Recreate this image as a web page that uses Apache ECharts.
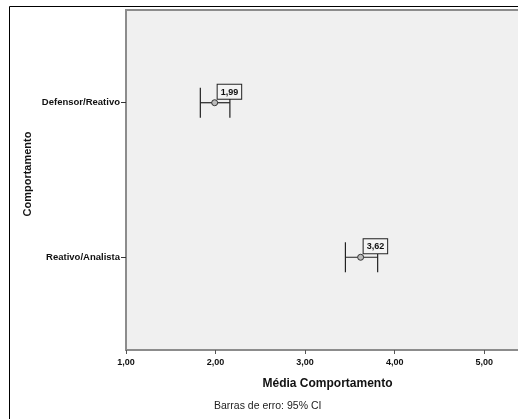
<!DOCTYPE html>
<html>
<head>
<meta charset="utf-8">
<script src="https://cdn.jsdelivr.net/npm/echarts@6/dist/echarts.min.js"></script>
<style>
  html, body { margin: 0; padding: 0; background: #fff; }
  #main { width: 518px; height: 419px; }
</style>
</head>
<body>
<div id="main"></div>
<script>
// dados do grafico
var categories = ['Defensor/Reativo', 'Reativo/Analista'];
var means = [1.99, 3.62];
var lower = [1.83, 3.45];
var upper = [2.16, 3.81];
var xTicks = [1, 2, 3, 4, 5];

function virgula(v) {
    return v.toFixed(2).replace('.', ',');
}

var dados = [];
for (var i = 0; i < categories.length; i++) {
    dados.push([i + 1, means[i], lower[i], upper[i]]);
}

var fonte = 'Liberation Sans, Arial, sans-serif';
var myChart = echarts.init(document.getElementById('main'));

var option = {
    animation: false,
    textStyle: { fontFamily: fonte },
    graphic: [
        {
            type: 'rect',
            shape: { x: 9.5, y: 6.5, width: 600, height: 500 },
            style: { fill: 'none', stroke: '#000', lineWidth: 1 },
            z: -1
        },
        {
            type: 'text',
            x: 28,
            y: 174,
            rotation: Math.PI / 2,
            style: {
                text: 'Comportamento', fill: '#111', font: 'bold 11px ' + fonte,
                align: 'center', verticalAlign: 'middle'
            }
        },
        {
            type: 'text',
            left: 214,
            top: 401,
            style: { text: 'Barras de erro: 95% CI', fill: '#222', font: '10.5px ' + fonte }
        }
    ],
    grid: {
        left: 126,
        top: 10,
        width: 403,
        height: 340,
        outerBoundsMode: 'none',
        containLabel: false,
        show: true,
        backgroundColor: '#f0f0f0',
        borderColor: '#8c8c8c',
        borderWidth: 2
    },
    xAxis: {
        type: 'value',
        min: 1,
        max: 5.5,
        interval: 1,
        name: 'Média Comportamento',
        nameLocation: 'middle',
        nameGap: 28,
        nameTextStyle: { fontSize: 12, fontWeight: 'bold', color: '#111' },
        splitLine: { show: false },
        axisLine: { show: true, lineStyle: { color: '#8c8c8c', width: 2 } },
        axisTick: { show: true, length: 4, lineStyle: { color: '#555' }, customValues: xTicks },
        axisLabel: {
            margin: 8,
            fontSize: 9,
            fontWeight: 'bold',
            color: '#111',
            customValues: xTicks,
            formatter: function (v) { return virgula(v); }
        }
    },
    yAxis: {
        type: 'value',
        min: 0.4,
        max: 2.6,
        inverse: true,
        splitLine: { show: false },
        axisLine: { show: true, lineStyle: { color: '#8c8c8c', width: 2 } },
        axisTick: { show: true, length: 5, lineStyle: { color: '#333' }, customValues: [1, 2] },
        axisLabel: {
            margin: 6,
            fontSize: 9.5,
            fontWeight: 'bold',
            color: '#111',
            customValues: [1, 2],
            formatter: function (v) { return categories[Math.round(v) - 1] || ''; }
        }
    },
    series: [{
        type: 'custom',
        data: dados,
        encode: { x: [1, 2, 3], y: 0 },
        clip: false,
        renderItem: function (params, api) {
            var y = api.value(0);
            var c = api.coord([api.value(1), y]);
            var lo = api.coord([api.value(2), y]);
            var hi = api.coord([api.value(3), y]);
            var h = 15;
            var st = { stroke: '#222', lineWidth: 1.2 };
            return {
                type: 'group',
                children: [
                    { type: 'line', shape: { x1: lo[0], y1: c[1], x2: hi[0], y2: c[1] }, style: st },
                    { type: 'line', shape: { x1: lo[0], y1: c[1] - h, x2: lo[0], y2: c[1] + h }, style: st },
                    { type: 'line', shape: { x1: hi[0], y1: c[1] - h, x2: hi[0], y2: c[1] + h }, style: st },
                    { type: 'circle', shape: { cx: c[0], cy: c[1], r: 3 }, style: { fill: '#bbb', stroke: '#333', lineWidth: 1 } },
                    {
                        type: 'text',
                        x: c[0] + 3,
                        y: c[1] - 4,
                        z2: 10,
                        style: {
                            text: virgula(api.value(1)),
                            fill: '#111',
                            font: 'bold 9px ' + fonte,
                            align: 'left',
                            verticalAlign: 'bottom',
                            backgroundColor: '#f4f4f4',
                            borderColor: '#222',
                            borderWidth: 1,
                            padding: [3, 3, 2, 3]
                        }
                    }
                ]
            };
        }
    }]
};

myChart.setOption(option);
</script>
</body>
</html>
